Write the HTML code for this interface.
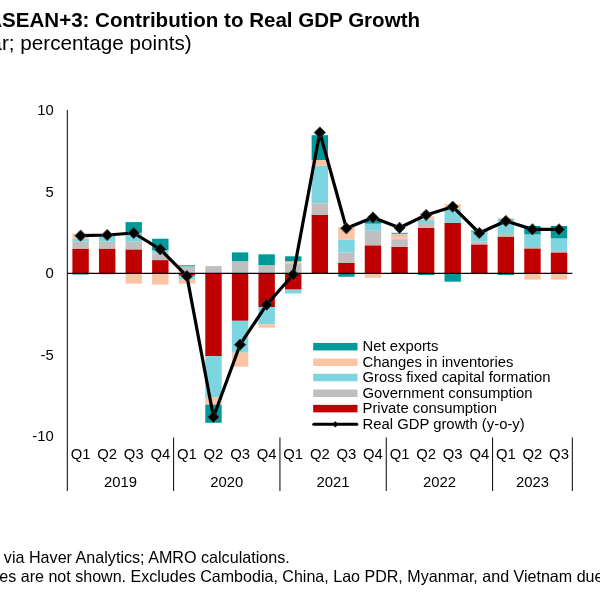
<!DOCTYPE html>
<html><head><meta charset="utf-8"><title>ASEAN+3: Contribution to Real GDP Growth</title>
<style>
html,body{margin:0;padding:0;background:#fff;}
body{width:600px;height:600px;overflow:hidden;position:relative;font-family:"Liberation Sans",Arial,sans-serif;color:#000;}
.t{position:absolute;white-space:nowrap;line-height:1;}
#title{left:-12.8px;top:10.4px;font-size:20.55px;font-weight:bold;}
#sub{left:-134.2px;top:33.3px;font-size:20.7px;}
#src{left:-56.2px;top:549.4px;font-size:16.14px;}
#note{left:-277.5px;top:568.4px;font-size:16.07px;}
svg{position:absolute;left:0;top:0;}
.ax{font-size:14.85px;font-family:"Liberation Sans",Arial,sans-serif;fill:#000;}
.lg{font-size:14.85px;font-family:"Liberation Sans",Arial,sans-serif;fill:#000;}
</style></head><body>
<div class="t" id="title">ASEAN+3: Contribution to Real GDP Growth</div>
<div class="t" id="sub">(Year-over-year; percentage points)</div>
<svg width="600" height="600" viewBox="0 0 600 600">
<rect x="72.39" y="248.60" width="16.4" height="24.80" fill="#C00000"/>
<rect x="72.39" y="241.70" width="16.4" height="6.90" fill="#BFBFBF"/>
<rect x="72.39" y="238.70" width="16.4" height="3.00" fill="#7DD5E0"/>
<rect x="72.39" y="233.70" width="16.4" height="5.00" fill="#F9C5A5"/>
<rect x="72.39" y="273.40" width="16.4" height="1.20" fill="#009999"/>
<rect x="98.97" y="248.60" width="16.4" height="24.80" fill="#C00000"/>
<rect x="98.97" y="241.70" width="16.4" height="6.90" fill="#BFBFBF"/>
<rect x="98.97" y="236.30" width="16.4" height="5.40" fill="#7DD5E0"/>
<rect x="98.97" y="234.00" width="16.4" height="2.30" fill="#009999"/>
<rect x="98.97" y="273.40" width="16.4" height="1.20" fill="#F9C5A5"/>
<rect x="125.55" y="249.40" width="16.4" height="24.00" fill="#C00000"/>
<rect x="125.55" y="241.70" width="16.4" height="7.70" fill="#BFBFBF"/>
<rect x="125.55" y="232.70" width="16.4" height="9.00" fill="#7DD5E0"/>
<rect x="125.55" y="222.10" width="16.4" height="10.60" fill="#009999"/>
<rect x="125.55" y="273.40" width="16.4" height="10.30" fill="#F9C5A5"/>
<rect x="152.13" y="260.10" width="16.4" height="13.30" fill="#C00000"/>
<rect x="152.13" y="253.40" width="16.4" height="6.70" fill="#BFBFBF"/>
<rect x="152.13" y="250.30" width="16.4" height="3.10" fill="#7DD5E0"/>
<rect x="152.13" y="238.70" width="16.4" height="11.60" fill="#009999"/>
<rect x="152.13" y="273.40" width="16.4" height="11.20" fill="#F9C5A5"/>
<rect x="178.71" y="266.30" width="16.4" height="7.10" fill="#BFBFBF"/>
<rect x="178.71" y="265.30" width="16.4" height="1.00" fill="#009999"/>
<rect x="178.71" y="273.40" width="16.4" height="2.30" fill="#C00000"/>
<rect x="178.71" y="275.70" width="16.4" height="3.30" fill="#7DD5E0"/>
<rect x="178.71" y="279.00" width="16.4" height="4.70" fill="#F9C5A5"/>
<rect x="205.29" y="266.10" width="16.4" height="7.30" fill="#BFBFBF"/>
<rect x="205.29" y="273.40" width="16.4" height="82.80" fill="#C00000"/>
<rect x="205.29" y="356.20" width="16.4" height="40.80" fill="#7DD5E0"/>
<rect x="205.29" y="397.00" width="16.4" height="7.70" fill="#F9C5A5"/>
<rect x="205.29" y="404.70" width="16.4" height="18.10" fill="#009999"/>
<rect x="231.87" y="261.20" width="16.4" height="12.20" fill="#BFBFBF"/>
<rect x="231.87" y="252.40" width="16.4" height="8.80" fill="#009999"/>
<rect x="231.87" y="273.40" width="16.4" height="47.40" fill="#C00000"/>
<rect x="231.87" y="320.80" width="16.4" height="31.80" fill="#7DD5E0"/>
<rect x="231.87" y="352.60" width="16.4" height="14.10" fill="#F9C5A5"/>
<rect x="258.45" y="265.00" width="16.4" height="8.40" fill="#BFBFBF"/>
<rect x="258.45" y="254.30" width="16.4" height="10.70" fill="#009999"/>
<rect x="258.45" y="273.40" width="16.4" height="33.80" fill="#C00000"/>
<rect x="258.45" y="307.20" width="16.4" height="17.00" fill="#7DD5E0"/>
<rect x="258.45" y="324.20" width="16.4" height="3.50" fill="#F9C5A5"/>
<rect x="285.03" y="264.00" width="16.4" height="9.40" fill="#BFBFBF"/>
<rect x="285.03" y="261.30" width="16.4" height="2.70" fill="#F9C5A5"/>
<rect x="285.03" y="256.30" width="16.4" height="5.00" fill="#009999"/>
<rect x="285.03" y="273.40" width="16.4" height="16.20" fill="#C00000"/>
<rect x="285.03" y="289.60" width="16.4" height="3.90" fill="#7DD5E0"/>
<rect x="311.61" y="215.00" width="16.4" height="58.40" fill="#C00000"/>
<rect x="311.61" y="203.30" width="16.4" height="11.70" fill="#BFBFBF"/>
<rect x="311.61" y="165.80" width="16.4" height="37.50" fill="#7DD5E0"/>
<rect x="311.61" y="160.00" width="16.4" height="5.80" fill="#F9C5A5"/>
<rect x="311.61" y="135.20" width="16.4" height="24.80" fill="#009999"/>
<rect x="338.19" y="263.00" width="16.4" height="10.40" fill="#C00000"/>
<rect x="338.19" y="252.50" width="16.4" height="10.50" fill="#BFBFBF"/>
<rect x="338.19" y="239.50" width="16.4" height="13.00" fill="#7DD5E0"/>
<rect x="338.19" y="227.00" width="16.4" height="12.50" fill="#F9C5A5"/>
<rect x="338.19" y="273.40" width="16.4" height="3.30" fill="#009999"/>
<rect x="364.77" y="245.30" width="16.4" height="28.10" fill="#C00000"/>
<rect x="364.77" y="230.80" width="16.4" height="14.50" fill="#BFBFBF"/>
<rect x="364.77" y="223.70" width="16.4" height="7.10" fill="#7DD5E0"/>
<rect x="364.77" y="220.80" width="16.4" height="2.90" fill="#009999"/>
<rect x="364.77" y="273.40" width="16.4" height="4.40" fill="#F9C5A5"/>
<rect x="391.35" y="246.70" width="16.4" height="26.70" fill="#C00000"/>
<rect x="391.35" y="239.70" width="16.4" height="7.00" fill="#BFBFBF"/>
<rect x="391.35" y="238.70" width="16.4" height="1.00" fill="#7DD5E0"/>
<rect x="391.35" y="233.70" width="16.4" height="5.00" fill="#F9C5A5"/>
<rect x="391.35" y="232.80" width="16.4" height="0.90" fill="#009999"/>
<rect x="417.93" y="227.80" width="16.4" height="45.60" fill="#C00000"/>
<rect x="417.93" y="223.00" width="16.4" height="4.80" fill="#BFBFBF"/>
<rect x="417.93" y="219.70" width="16.4" height="3.30" fill="#7DD5E0"/>
<rect x="417.93" y="216.30" width="16.4" height="3.40" fill="#F9C5A5"/>
<rect x="417.93" y="273.40" width="16.4" height="1.60" fill="#009999"/>
<rect x="444.51" y="222.80" width="16.4" height="50.60" fill="#C00000"/>
<rect x="444.51" y="209.20" width="16.4" height="13.60" fill="#7DD5E0"/>
<rect x="444.51" y="204.20" width="16.4" height="5.00" fill="#F9C5A5"/>
<rect x="444.51" y="273.40" width="16.4" height="8.30" fill="#009999"/>
<rect x="471.09" y="244.40" width="16.4" height="29.00" fill="#C00000"/>
<rect x="471.09" y="241.60" width="16.4" height="2.80" fill="#BFBFBF"/>
<rect x="471.09" y="231.60" width="16.4" height="10.00" fill="#7DD5E0"/>
<rect x="471.09" y="230.60" width="16.4" height="1.00" fill="#009999"/>
<rect x="471.09" y="273.40" width="16.4" height="1.10" fill="#F9C5A5"/>
<rect x="497.67" y="236.60" width="16.4" height="36.80" fill="#C00000"/>
<rect x="497.67" y="233.00" width="16.4" height="3.60" fill="#BFBFBF"/>
<rect x="497.67" y="219.00" width="16.4" height="14.00" fill="#7DD5E0"/>
<rect x="497.67" y="218.00" width="16.4" height="1.00" fill="#F9C5A5"/>
<rect x="497.67" y="273.40" width="16.4" height="1.60" fill="#009999"/>
<rect x="524.25" y="248.40" width="16.4" height="25.00" fill="#C00000"/>
<rect x="524.25" y="247.00" width="16.4" height="1.40" fill="#BFBFBF"/>
<rect x="524.25" y="234.40" width="16.4" height="12.60" fill="#7DD5E0"/>
<rect x="524.25" y="226.00" width="16.4" height="8.40" fill="#009999"/>
<rect x="524.25" y="273.40" width="16.4" height="6.20" fill="#F9C5A5"/>
<rect x="550.83" y="252.40" width="16.4" height="21.00" fill="#C00000"/>
<rect x="550.83" y="251.00" width="16.4" height="1.40" fill="#BFBFBF"/>
<rect x="550.83" y="238.40" width="16.4" height="12.60" fill="#7DD5E0"/>
<rect x="550.83" y="226.00" width="16.4" height="12.40" fill="#009999"/>
<rect x="550.83" y="273.40" width="16.4" height="6.20" fill="#F9C5A5"/>
<line x1="67.3" y1="110" x2="67.3" y2="491" stroke="#000" stroke-width="1"/><line x1="67.3" y1="273.4" x2="572.32" y2="273.4" stroke="#000" stroke-width="1.2"/><line x1="173.62" y1="437.5" x2="173.62" y2="491" stroke="#000" stroke-width="1"/><line x1="279.94" y1="437.5" x2="279.94" y2="491" stroke="#000" stroke-width="1"/><line x1="386.26" y1="437.5" x2="386.26" y2="491" stroke="#000" stroke-width="1"/><line x1="492.58" y1="437.5" x2="492.58" y2="491" stroke="#000" stroke-width="1"/><line x1="572.32" y1="437.5" x2="572.32" y2="491" stroke="#000" stroke-width="1"/>
<polyline points="80.59,235.70 107.17,235.00 133.75,233.00 160.33,249.40 186.91,276.10 213.49,417.00 240.07,344.70 266.65,304.70 293.23,274.50 319.81,132.50 346.39,228.30 372.97,217.50 399.55,227.80 426.13,215.00 452.71,206.70 479.29,233.00 505.87,221.00 532.45,229.40 559.03,229.40" fill="none" stroke="#000" stroke-width="3.2" stroke-linejoin="round" stroke-linecap="round"/>
<path d="M80.59 230.10 L86.19 235.70 L80.59 241.30 L74.99 235.70 Z" fill="#000" stroke="#3a3a3a" stroke-width="1"/>
<path d="M107.17 229.40 L112.77 235.00 L107.17 240.60 L101.57 235.00 Z" fill="#000" stroke="#3a3a3a" stroke-width="1"/>
<path d="M133.75 227.40 L139.35 233.00 L133.75 238.60 L128.15 233.00 Z" fill="#000" stroke="#3a3a3a" stroke-width="1"/>
<path d="M160.33 243.80 L165.93 249.40 L160.33 255.00 L154.73 249.40 Z" fill="#000" stroke="#3a3a3a" stroke-width="1"/>
<path d="M186.91 270.50 L192.51 276.10 L186.91 281.70 L181.31 276.10 Z" fill="#000" stroke="#3a3a3a" stroke-width="1"/>
<path d="M213.49 411.40 L219.09 417.00 L213.49 422.60 L207.89 417.00 Z" fill="#000" stroke="#3a3a3a" stroke-width="1"/>
<path d="M240.07 339.10 L245.67 344.70 L240.07 350.30 L234.47 344.70 Z" fill="#000" stroke="#3a3a3a" stroke-width="1"/>
<path d="M266.65 299.10 L272.25 304.70 L266.65 310.30 L261.05 304.70 Z" fill="#000" stroke="#3a3a3a" stroke-width="1"/>
<path d="M293.23 268.90 L298.83 274.50 L293.23 280.10 L287.63 274.50 Z" fill="#000" stroke="#3a3a3a" stroke-width="1"/>
<path d="M319.81 126.90 L325.41 132.50 L319.81 138.10 L314.21 132.50 Z" fill="#000" stroke="#3a3a3a" stroke-width="1"/>
<path d="M346.39 222.70 L351.99 228.30 L346.39 233.90 L340.79 228.30 Z" fill="#000" stroke="#3a3a3a" stroke-width="1"/>
<path d="M372.97 211.90 L378.57 217.50 L372.97 223.10 L367.37 217.50 Z" fill="#000" stroke="#3a3a3a" stroke-width="1"/>
<path d="M399.55 222.20 L405.15 227.80 L399.55 233.40 L393.95 227.80 Z" fill="#000" stroke="#3a3a3a" stroke-width="1"/>
<path d="M426.13 209.40 L431.73 215.00 L426.13 220.60 L420.53 215.00 Z" fill="#000" stroke="#3a3a3a" stroke-width="1"/>
<path d="M452.71 201.10 L458.31 206.70 L452.71 212.30 L447.11 206.70 Z" fill="#000" stroke="#3a3a3a" stroke-width="1"/>
<path d="M479.29 227.40 L484.89 233.00 L479.29 238.60 L473.69 233.00 Z" fill="#000" stroke="#3a3a3a" stroke-width="1"/>
<path d="M505.87 215.40 L511.47 221.00 L505.87 226.60 L500.27 221.00 Z" fill="#000" stroke="#3a3a3a" stroke-width="1"/>
<path d="M532.45 223.80 L538.05 229.40 L532.45 235.00 L526.85 229.40 Z" fill="#000" stroke="#3a3a3a" stroke-width="1"/>
<path d="M559.03 223.80 L564.63 229.40 L559.03 235.00 L553.43 229.40 Z" fill="#000" stroke="#3a3a3a" stroke-width="1"/>
<text x="53.8" y="115.3" text-anchor="end" class="ax">10</text><text x="53.8" y="196.8" text-anchor="end" class="ax">5</text><text x="53.8" y="278.3" text-anchor="end" class="ax">0</text><text x="53.8" y="359.8" text-anchor="end" class="ax">-5</text><text x="53.8" y="441.3" text-anchor="end" class="ax">-10</text><text x="80.59" y="459.0" text-anchor="middle" class="ax">Q1</text><text x="107.17" y="459.0" text-anchor="middle" class="ax">Q2</text><text x="133.75" y="459.0" text-anchor="middle" class="ax">Q3</text><text x="160.33" y="459.0" text-anchor="middle" class="ax">Q4</text><text x="186.91" y="459.0" text-anchor="middle" class="ax">Q1</text><text x="213.49" y="459.0" text-anchor="middle" class="ax">Q2</text><text x="240.07" y="459.0" text-anchor="middle" class="ax">Q3</text><text x="266.65" y="459.0" text-anchor="middle" class="ax">Q4</text><text x="293.23" y="459.0" text-anchor="middle" class="ax">Q1</text><text x="319.81" y="459.0" text-anchor="middle" class="ax">Q2</text><text x="346.39" y="459.0" text-anchor="middle" class="ax">Q3</text><text x="372.97" y="459.0" text-anchor="middle" class="ax">Q4</text><text x="399.55" y="459.0" text-anchor="middle" class="ax">Q1</text><text x="426.13" y="459.0" text-anchor="middle" class="ax">Q2</text><text x="452.71" y="459.0" text-anchor="middle" class="ax">Q3</text><text x="479.29" y="459.0" text-anchor="middle" class="ax">Q4</text><text x="505.87" y="459.0" text-anchor="middle" class="ax">Q1</text><text x="532.45" y="459.0" text-anchor="middle" class="ax">Q2</text><text x="559.03" y="459.0" text-anchor="middle" class="ax">Q3</text><text x="120.46" y="486.8" text-anchor="middle" class="ax">2019</text><text x="226.78" y="486.8" text-anchor="middle" class="ax">2020</text><text x="333.10" y="486.8" text-anchor="middle" class="ax">2021</text><text x="439.42" y="486.8" text-anchor="middle" class="ax">2022</text><text x="532.45" y="486.8" text-anchor="middle" class="ax">2023</text>
<rect x="313.2" y="342.95" width="44.3" height="7.5" fill="#009999"/><text x="362.5" y="351.0" class="lg">Net exports</text><rect x="313.2" y="358.55" width="44.3" height="7.5" fill="#F9C5A5"/><text x="362.5" y="366.6" class="lg">Changes in inventories</text><rect x="313.2" y="373.75" width="44.3" height="7.5" fill="#7DD5E0"/><text x="362.5" y="381.8" class="lg">Gross fixed capital formation</text><rect x="313.2" y="389.55" width="44.3" height="7.5" fill="#BFBFBF"/><text x="362.5" y="397.6" class="lg">Government consumption</text><rect x="313.2" y="404.85" width="44.3" height="7.5" fill="#C00000"/><text x="362.5" y="412.9" class="lg">Private consumption</text><line x1="313.8" y1="424.3" x2="356.8" y2="424.3" stroke="#000" stroke-width="3" stroke-linecap="round"/><path d="M335.3 421.40000000000003 l2.9 2.9 l-2.9 2.9 l-2.9 -2.9 Z" fill="#000" stroke="#262626" stroke-width="0.6"/><text x="362.5" y="428.6" class="lg">Real GDP growth (y-o-y)</text>
</svg>
<div class="t" id="src">Source: via Haver Analytics; AMRO calculations.</div>
<div class="t" id="note">Note: Brunei and statistical discrepancies are not shown. Excludes Cambodia, China, Lao PDR, Myanmar, and Vietnam due to data availability.</div>
</body></html>
